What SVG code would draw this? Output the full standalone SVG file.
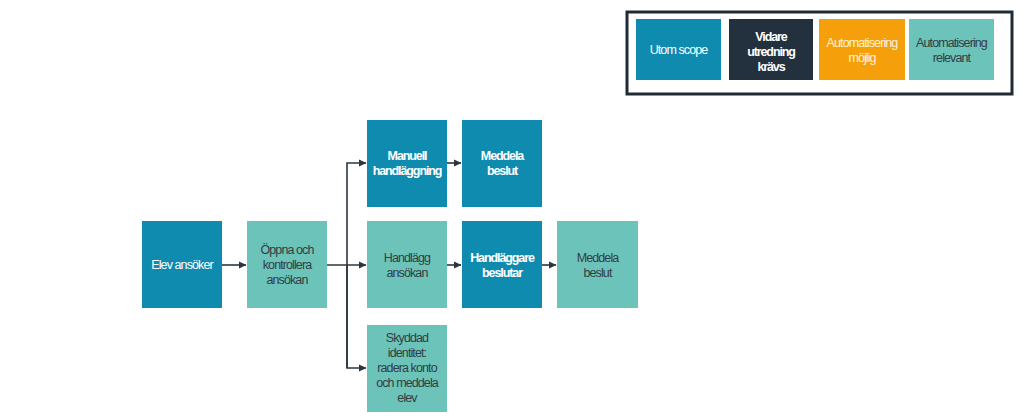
<svg xmlns="http://www.w3.org/2000/svg" width="1024" height="419" viewBox="0 0 1024 419">
<style>
text{font-family:"Liberation Sans Narrow","Liberation Sans",Arial,sans-serif;font-size:12.5px;text-anchor:middle;dominant-baseline:central;letter-spacing:-0.9px}
.blue{fill:#0f8bb0}.dark{fill:#22313d}.orange{fill:#f59f0a}.teal{fill:#6cc3b9}
.w{fill:#ffffff}.wb{fill:#ffffff;font-weight:bold;letter-spacing:-1.1px}.d{fill:#333d44}.ow{fill:#fff4dc}
.c{fill:none;stroke:#2b3640;stroke-width:1.6}
</style>
<defs>
<marker id="ah" markerWidth="8" markerHeight="8" refX="7" refY="4" orient="auto" markerUnits="userSpaceOnUse">
<path d="M0,0.5 L7.5,4 L0,7.5 Z" fill="#2b3640"/>
</marker>
</defs>
<rect width="1024" height="419" fill="#ffffff"/>
<g id="legend">
<rect x="627" y="12" width="385" height="82" fill="#ffffff" stroke="#1f2b35" stroke-width="3"/>
<rect class="blue" x="636" y="19" width="85" height="61"/>
<text class="w" x="678.5" y="50">Utom scope</text>
<rect class="dark" x="729" y="19" width="84" height="61"/>
<text class="wb" x="771" y="37">Vidare</text><text class="wb" x="771" y="52">utredning</text><text class="wb" x="771" y="67">krävs</text>
<rect class="orange" x="819" y="19" width="86" height="61"/>
<text class="ow" x="862" y="43">Automatisering</text><text class="ow" x="862" y="58">möjlig</text>
<rect class="teal" x="909" y="19" width="85" height="61"/>
<text class="d" x="951.5" y="43">Automatisering</text><text class="d" x="951.5" y="58">relevant</text>
</g>
<g id="connectors">
<line class="c" x1="222" y1="265" x2="246" y2="265" marker-end="url(#ah)"/>
<polyline class="c" points="327,265 366,265" marker-end="url(#ah)"/>
<polyline class="c" points="347,368 347,163 366,163" marker-end="url(#ah)"/>
<polyline class="c" points="347,265 347,368 366,368" marker-end="url(#ah)"/>
<line class="c" x1="447" y1="163" x2="461" y2="163" marker-end="url(#ah)"/>
<line class="c" x1="447" y1="265" x2="461" y2="265" marker-end="url(#ah)"/>
<line class="c" x1="542" y1="265" x2="556" y2="265" marker-end="url(#ah)"/>
</g>
<g id="elev-ansoker">
<rect class="blue" x="142" y="221" width="80" height="87"/>
<text class="w" x="182" y="265">Elev ansöker</text>
</g>
<g id="oppna">
<rect class="teal" x="247" y="221" width="80" height="87"/>
<text class="d" x="287" y="250">Öppna och</text><text class="d" x="287" y="265">kontrollera</text><text class="d" x="287" y="280">ansökan</text>
</g>
<g id="manuell">
<rect class="blue" x="367" y="120" width="80" height="87"/>
<text class="wb" x="407" y="156">Manuell</text><text class="wb" x="407" y="171">handläggning</text>
</g>
<g id="meddela-1">
<rect class="blue" x="462" y="120" width="80" height="87"/>
<text class="wb" x="502" y="156">Meddela</text><text class="wb" x="502" y="171">beslut</text>
</g>
<g id="handlagg">
<rect class="teal" x="367" y="221" width="80" height="87"/>
<text class="d" x="407" y="258">Handlägg</text><text class="d" x="407" y="273">ansökan</text>
</g>
<g id="handlaggare">
<rect class="blue" x="462" y="221" width="80" height="87"/>
<text class="wb" x="502" y="258">Handläggare</text><text class="wb" x="502" y="273">beslutar</text>
</g>
<g id="meddela-2">
<rect class="teal" x="557" y="221" width="81" height="87"/>
<text class="d" x="597.5" y="258">Meddela</text><text class="d" x="597.5" y="273">beslut</text>
</g>
<g id="skyddad">
<rect class="teal" x="367" y="325" width="80" height="87"/>
<text class="d" x="407" y="338">Skyddad</text><text class="d" x="407" y="353">identitet:</text><text class="d" x="407" y="368">radera konto</text><text class="d" x="407" y="383">och meddela</text><text class="d" x="407" y="398">elev</text>
</g>
</svg>
